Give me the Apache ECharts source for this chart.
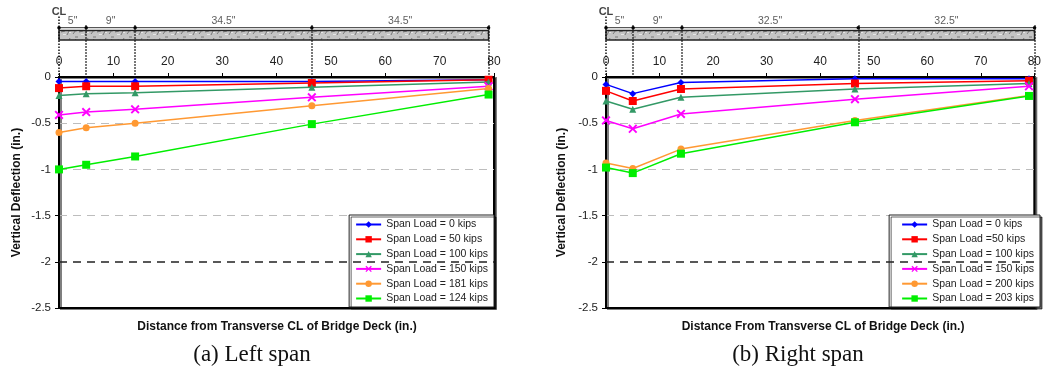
<!DOCTYPE html>
<html>
<head>
<meta charset="utf-8">
<script src="https://cdn.jsdelivr.net/npm/echarts@6/dist/echarts.min.js"></script>
<style>html,body{margin:0;padding:0;background:#fff;}#c{width:1044px;height:380px;}</style>
</head>
<body>
<div id="c"></div>
<script>
// ---- data ----
const xStations = [0, 5, 14, 46.5, 79];
const xTicks = [0, 10, 20, 30, 40, 50, 60, 70, 80];
const yTicks = [0, -0.5, -1, -1.5, -2, -2.5];
const leftDims = ['5"', '9"', '34.5"', '34.5"'];
const rightDims = ['5"', '9"', '32.5"', '32.5"'];
const leftNames = ['Span Load = 0 kips', 'Span Load = 50 kips', 'Span Load = 100 kips', 'Span Load = 150 kips', 'Span Load = 181 kips', 'Span Load = 124 kips'];
const rightNames = ['Span Load = 0 kips', 'Span Load =50 kips', 'Span Load = 100 kips', 'Span Load = 150 kips', 'Span Load = 200 kips', 'Span Load = 203 kips'];
const left0   = [-0.05, -0.05, -0.05, -0.05, -0.03];
const left50  = [-0.12, -0.10, -0.10, -0.065, -0.03];
const left100 = [-0.20, -0.18, -0.17, -0.11, -0.055];
const left150 = [-0.41, -0.38, -0.35, -0.22, -0.10];
const left181 = [-0.60, -0.55, -0.50, -0.31, -0.125];
const left124 = [-1.00, -0.95, -0.86, -0.51, -0.19];
const right0   = [-0.08, -0.18, -0.06, -0.02, -0.02];
const right50  = [-0.15, -0.26, -0.13, -0.07, -0.04];
const right100 = [-0.26, -0.35, -0.22, -0.13, -0.07];
const right150 = [-0.47, -0.56, -0.40, -0.24, -0.10];
const right200 = [-0.93, -0.99, -0.78, -0.47, -0.20];
const right203 = [-0.98, -1.04, -0.83, -0.49, -0.205];
const leftValues = [left0, left50, left100, left150, left181, left124];
const rightValues = [right0, right50, right100, right150, right200, right203];

// ---- styles ----
const FONT = '"Liberation Sans", Arial, sans-serif';
const colors = ['#0000ff', '#ff0000', '#339966', '#ff00ff', '#ff9933', '#00ee00'];
const XPATH = 'path://M0,1.5L1.5,0L5,3.5L8.5,0L10,1.5L6.5,5L10,8.5L8.5,10L5,6.5L1.5,10L0,8.5L3.5,5Z';
const symbols = ['diamond', 'rect', 'triangle', XPATH, 'circle', 'rect'];
const symSizes = [7, 8, 7, 9, 7, 8];

// hatched concrete pattern
const pc = document.createElement('canvas');
pc.width = 18; pc.height = 9;
const g = pc.getContext('2d');
g.fillStyle = '#c4c4c4'; g.fillRect(0, 0, 18, 9);
g.strokeStyle = '#7a7a7a'; g.lineWidth = 1;
g.beginPath();
g.moveTo(1, 7); g.lineTo(4, 3);
g.moveTo(7, 5); g.lineTo(11, 4);
g.moveTo(13, 8); g.lineTo(16, 2);
g.moveTo(3, 1); g.lineTo(6, 1);
g.stroke();
g.fillStyle = '#e6e6e6'; g.fillRect(9, 7, 3, 1); g.fillRect(15, 5, 2, 1); g.fillRect(5, 4, 2, 1);

const plotTop = 77, plotH = 231;
const grids = [
  {left: 59, top: plotTop, width: 435, height: plotH},
  {left: 606, top: plotTop, width: 434, height: plotH},
  {left: 59, top: 5, width: 435, height: 72},
  {left: 606, top: 5, width: 434, height: 72}
];

function plotX(gi) {
  return {
    type: 'value', gridIndex: gi, position: 'top', min: 0, max: 80, interval: 10,
    axisLine: {show: true, onZero: false, lineStyle: {color: '#000', width: 1.5}},
    axisTick: {show: true, inside: false, length: 4, lineStyle: {color: '#000', width: 1}},
    axisLabel: {show: true, margin: 9, fontSize: 12, color: '#222', fontFamily: FONT, alignMinLabel: 'center', alignMaxLabel: 'center', hideOverlap: false},
    splitLine: {show: false}
  };
}
function plotY(gi, gap) {
  return {
    type: 'value', gridIndex: gi, min: -2.5, max: 0, interval: 0.5,
    name: 'Vertical Deflection (in.)', nameLocation: 'middle', nameGap: gap, nameRotate: 90,
    nameTextStyle: {fontSize: 12, fontWeight: 'bold', color: '#111', fontFamily: FONT},
    axisLine: {show: true, onZero: false, lineStyle: {color: '#000', width: 2}},
    axisTick: {show: true, inside: false, length: 4, lineStyle: {color: '#000', width: 1}},
    axisLabel: {show: true, margin: 8, fontSize: 11.5, color: '#222', fontFamily: FONT},
    splitLine: {show: true, lineStyle: {color: ['rgba(0,0,0,0)', 'rgba(0,0,0,0)', '#bdbdbd', '#bdbdbd', '#bdbdbd', 'rgba(0,0,0,0)'], type: [8, 6], width: 1.2}}
  };
}
function deckX(gi) { return {type: 'value', gridIndex: gi, min: 0, max: 80, show: false}; }
function deckY(gi) { return {type: 'value', gridIndex: gi, min: 0, max: 1, show: false}; }

function dataSeries(names, values, axisIdx) {
  return names.map((n, i) => ({
    name: n, type: 'line', xAxisIndex: axisIdx, yAxisIndex: axisIdx,
    data: xStations.map((x, k) => [x, values[i][k]]),
    symbol: symbols[i], symbolSize: symSizes[i],
    lineStyle: {color: colors[i], width: 1.5},
    itemStyle: {color: colors[i]},
    z: 5 + i, clip: false, animation: false,
    markLine: i === 0 ? {
      silent: true, symbol: 'none', label: {show: false},
      lineStyle: {color: '#222', type: [8, 6], width: 1.5},
      data: [{yAxis: yTicks[4]}]
    } : undefined
  }));
}

function deckSeries(dims, axisIdx) {
  return [
    {
      type: 'line', xAxisIndex: axisIdx, yAxisIndex: axisIdx, silent: true, animation: false,
      data: xStations.map(x => [x, 0.685]),
      symbol: 'circle', symbolSize: 3.5,
      lineStyle: {color: '#333', width: 1}, itemStyle: {color: '#000'},
      markArea: {
        silent: true, label: {show: false},
        itemStyle: {color: {image: pc, repeat: 'repeat'}, borderColor: '#222', borderWidth: 1.5},
        data: [[{coord: [xStations[0], 0.515]}, {coord: [xStations[xStations.length - 1], 0.645]}]]
      },
      markLine: {
        silent: true, symbol: 'none', label: {show: false},
        lineStyle: {color: '#111', type: [1.5, 1.5], width: 1.5},
        data: xStations.map((x, k) => [{coord: [x, k === 0 ? 0.84 : 0.72]}, {coord: [x, 0]}])
      }
    },
    {
      type: 'scatter', xAxisIndex: axisIdx, yAxisIndex: axisIdx, silent: true, animation: false,
      symbolSize: 0, clip: false,
      data: dims.map((t, k) => ({name: t, value: [(xStations[k] + xStations[k + 1]) / 2, 0.77]}))
        .concat([{name: 'CL', value: [xStations[0], 0.905], label: {fontWeight: 'bold', fontSize: 11, color: '#111'}}]),
      label: {show: true, position: 'inside', formatter: '{b}', fontSize: 10.5, color: '#333', fontFamily: FONT}
    }
  ];
}

function legend(names, right, padLeft) {
  return {
    data: names, orient: 'vertical', right: right, bottom: 73,
    itemWidth: 25, itemHeight: 8, itemGap: 3.8,
    padding: [4, 6, 3, padLeft],
    backgroundColor: '#fff', borderColor: '#222', borderWidth: 1, borderRadius: 0,
    shadowColor: 'rgba(0,0,0,0.6)', shadowOffsetX: 2, shadowOffsetY: 2, shadowBlur: 0,
    textStyle: {fontSize: 10.5, color: '#222', fontFamily: FONT, lineHeight: 10},
    selectedMode: false
  };
}

const option = {
  backgroundColor: '#fff',
  animation: false,
  grid: grids.map((gr, i) => Object.assign({}, gr, i < 2 ? {
    show: true, borderColor: '#000', borderWidth: 2, backgroundColor: '#fff',
    shadowColor: 'rgba(0,0,0,0.5)', shadowOffsetX: 2, shadowOffsetY: 1, shadowBlur: 0
  } : {})),
  xAxis: [plotX(0), plotX(1), deckX(2), deckX(3)],
  yAxis: [plotY(0, 36), plotY(1, 38), deckY(2), deckY(3)],
  legend: [legend(leftNames, 550, 6), legend(rightNames, 4, 12)],
  series: [].concat(
    dataSeries(leftNames, leftValues, 0),
    dataSeries(rightNames, rightValues, 1),
    deckSeries(leftDims, 2),
    deckSeries(rightDims, 3)
  ),
  graphic: [
    {type: 'text', x: 277, y: 327, style: {text: 'Distance from Transverse CL of Bridge Deck (in.)', textAlign: 'center', textVerticalAlign: 'middle', font: 'bold 12px ' + FONT, fill: '#111'}},
    {type: 'text', x: 823, y: 327, style: {text: 'Distance From Transverse CL of Bridge Deck (in.)', textAlign: 'center', textVerticalAlign: 'middle', font: 'bold 12px ' + FONT, fill: '#111'}},
    {type: 'text', x: 252, y: 355, style: {text: '(a) Left span', textAlign: 'center', textVerticalAlign: 'middle', font: '23px "Liberation Serif", "Times New Roman", serif', fill: '#111'}},
    {type: 'text', x: 798, y: 355, style: {text: '(b) Right span', textAlign: 'center', textVerticalAlign: 'middle', font: '23px "Liberation Serif", "Times New Roman", serif', fill: '#111'}}
  ]
};

const chart = echarts.init(document.getElementById('c'), null, {renderer: 'canvas'});
chart.setOption(option);
</script>
</body>
</html>
